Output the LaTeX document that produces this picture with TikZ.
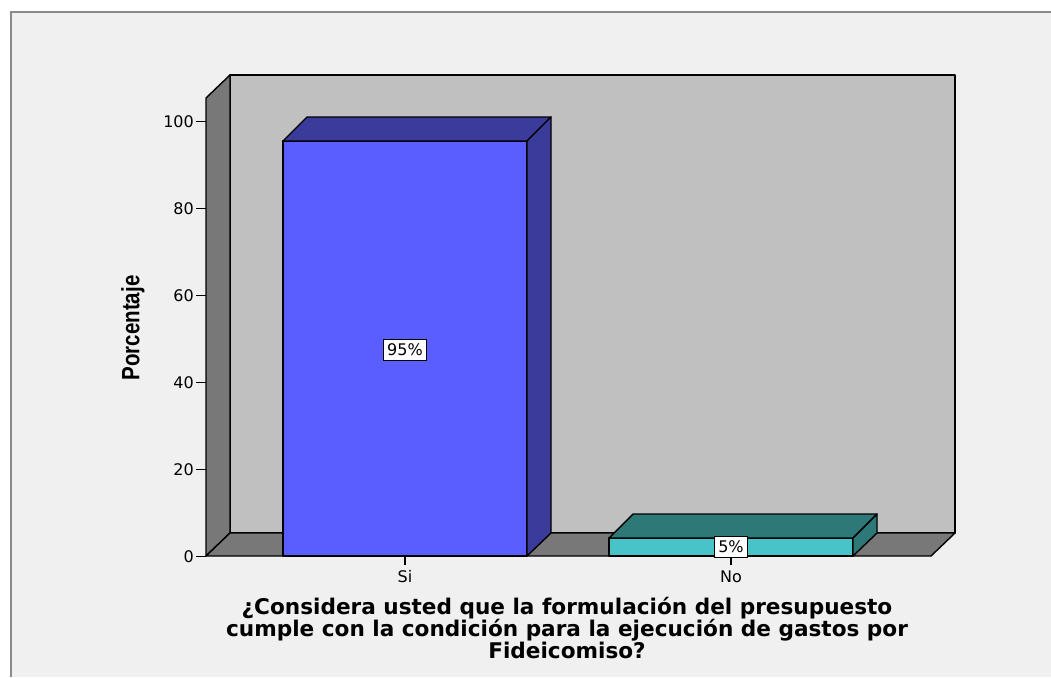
\documentclass[tikz,border=0pt]{standalone}
\usepackage{fontspec}
\usepackage{graphicx}
\setmainfont{DejaVu Sans}
\newfontfamily\narrowfont{Liberation Sans}
\definecolor{bgc}{HTML}{F0F0F0}
\definecolor{framec}{HTML}{8A8A8A}
\definecolor{wallc}{HTML}{C0C0C0}
\definecolor{sidec}{HTML}{787878}
\definecolor{sifront}{HTML}{5A5EFF}
\definecolor{sidark}{HTML}{3B3B9C}
\definecolor{nofront}{HTML}{48C4C8}
\definecolor{nodark}{HTML}{2E7878}
\tikzset{
  outline/.style={draw=black, line width=1.4pt, line join=round},
  ticklab/.style={font=\fontsize{16}{19}\selectfont, inner sep=0pt},
  valbox/.style={draw=black, fill=white, line width=1.3pt, inner xsep=4pt, inner ysep=4.5pt, font=\fontsize{16}{19}\selectfont},
  tickline/.style={draw=black, line width=1.4pt}
}
\begin{document}
\begin{tikzpicture}[x=1pt,y=-1pt]
\useasboundingbox (0,0) rectangle (1051,677);
\fill[white] (0,0) rectangle (1051,677);
\fill[bgc] (10.5,12.5) rectangle (1051,677);
\draw[framec, line width=2pt] (10.5,677) -- (10.5,12.5) -- (1051,12.5);
% walls
\filldraw[fill=wallc, outline] (230,75) rectangle (955,533);
\filldraw[fill=sidec, outline] (206,98) -- (230,75) -- (230,533) -- (206,556) -- cycle;
\filldraw[fill=sidec, outline] (206,556) -- (230,533) -- (955,533) -- (931,556) -- cycle;
% ticks y
\foreach \v in {0,20,40,60,80,100}{
  \draw[tickline] (196,{556.5-4.35*\v}) -- (206,{556.5-4.35*\v});
  \node[ticklab, anchor=east] (t\v) at (194,{556.5-4.35*\v}) {\v};
}
% bar Si
\filldraw[fill=sifront, outline] (283,141) rectangle (527,556);
\filldraw[fill=sidark, outline] (283,141) -- (307,117) -- (551,117) -- (527,141) -- cycle;
\filldraw[fill=sidark, outline] (527,141) -- (551,117) -- (551,533) -- (527,556) -- cycle;
% bar No
\filldraw[fill=nofront, outline] (609,538) rectangle (853,556);
\filldraw[fill=nodark, outline] (609,538) -- (633,514) -- (877,514) -- (853,538) -- cycle;
\filldraw[fill=nodark, outline] (853,538) -- (877,514) -- (877,533) -- (853,556) -- cycle;
% category ticks
\draw[tickline] (405,556) -- (405,565);
\draw[tickline] (731,556) -- (731,565);
\node[ticklab] (si) at (405,577) {Si};
\node[ticklab] (no) at (731,577) {No};
% value labels
\node[valbox] (v95) at (405,350) {95\%};
\node[valbox] (v5) at (731,547) {5\%};
% axis title
\node[rotate=90, inner sep=0pt] (ytitle) at (133,328) {\scalebox{0.82}[1]{\narrowfont\bfseries\fontsize{25}{28}\selectfont Porcentaje}};
% x title
\node[align=center, inner sep=0pt, font=\fontsize{21.6}{20}\selectfont\bfseries] (xtitle) at (567,628)
  {¿Considera usted que la formulación del presupuesto\\cumple con la condición para la ejecución de gastos por\\Fideicomiso?};
\end{tikzpicture}
\end{document}
